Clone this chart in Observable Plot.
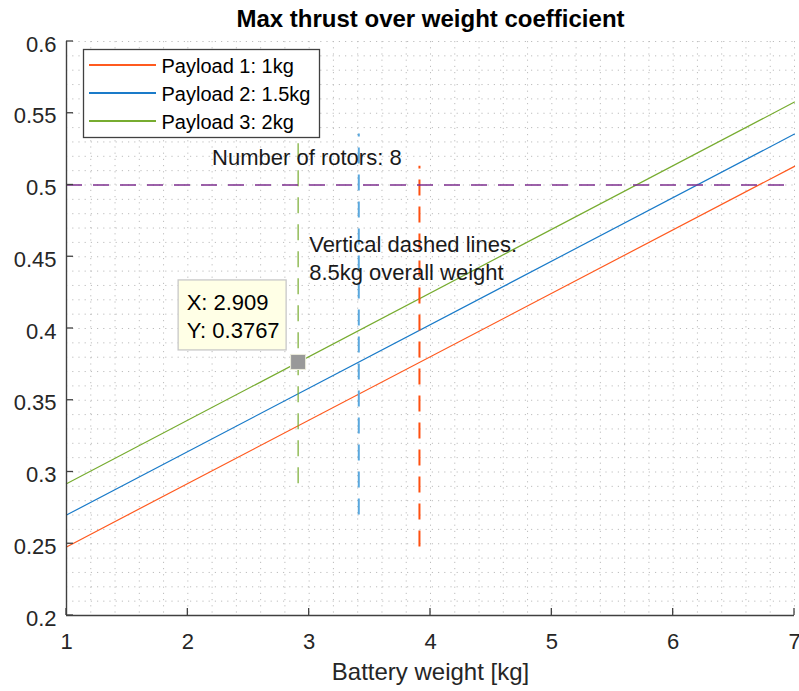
<!DOCTYPE html>
<html><head><meta charset="utf-8">
<script src="https://cdn.jsdelivr.net/npm/d3@7"></script>
<script src="https://cdn.jsdelivr.net/npm/@observablehq/plot@0.6"></script>
<style>body{margin:0;background:#fff} svg{display:block}</style>
</head><body><div id="chart"></div>
<script>
// ---- data ----
const batteryWeight = [1, 7];
const seriesNames = ["Payload 1: 1kg", "Payload 2: 1.5kg", "Payload 3: 2kg"];
const payload1 = [0.2478, 0.5130];
const payload2 = [0.2700, 0.5355];
const payload3 = [0.2918, 0.5578];
const seriesColors = ["#FF5A1F", "#1A7BC9", "#77AC30"];
const verticalColors = ["#FF5010", "#5AA8DE", "#77AC30"];
const verticalWidths = [2, 2, 1.2];
const batteryAtOverall = [3.909, 3.409, 2.909];
const thresholdY = [0.5];
const xTicks = [1, 2, 3, 4, 5, 6, 7];
const yTicks = [0.2, 0.25, 0.3, 0.35, 0.4, 0.45, 0.5, 0.55, 0.6];
const annotX = [2.2, 3.0, 3.0];
const annotY = [0.519, 0.458, 0.439];
const annotText = ["Number of rotors: 8", "Vertical dashed lines:", "8.5kg overall weight"];
const tipX = [2.909];
const tipY = [0.3767];
const titleText = "Max thrust over weight coefficient";
const xLabelText = "Battery weight [kg]";

const FONT = "'Liberation Sans', Arial, Helvetica, sans-serif";
const series = [payload1, payload2, payload3];
const lineData = series.flatMap((s, i) => s.map((v, j) => ({x: batteryWeight[j], y: v, name: seriesNames[i], color: seriesColors[i]})));
const verticals = series.map((s, i) => ({x: batteryAtOverall[i], y1: s[0], y2: s[s.length - 1], color: verticalColors[i], w: verticalWidths[i]}));
const annots = annotText.map((t, i) => ({x: annotX[i], y: annotY[i], t}));
const tip = tipX.map((x, i) => ({x, y: tipY[i]}));

const xGrid = d3.range(0, 31).map(i => 1 + i * 0.2);
const yGrid = d3.range(0, 41).map(i => 0.2 + i * 0.01);
const gridStyle = {stroke: "#bdbdbd", strokeWidth: 1, strokeDasharray: "1.2,5"};

const chart = Plot.plot({
  width: 799, height: 691,
  marginLeft: 66, marginRight: 5, marginTop: 41, marginBottom: 76,
  style: {fontFamily: FONT, fontSize: "22px", color: "#262626", background: "#fff"},
  x: {domain: [1, 7]},
  y: {domain: [0.2, 0.6]},
  color: {type: "identity"},
  marks: [
    Plot.ruleX(xGrid, gridStyle),
    Plot.ruleY(yGrid, gridStyle),
    Plot.line(lineData, {x: "x", y: "y", z: "name", stroke: "color", strokeWidth: 1.2}),
    ...verticals.map(v => Plot.ruleX([v], {x: "x", y1: "y1", y2: "y2", stroke: v.color, strokeWidth: v.w, strokeDasharray: "16,11"})),
    Plot.ruleY(thresholdY, {stroke: "#7E2F8E", strokeWidth: 1.4, strokeDasharray: "16,11"}),
    Plot.text(annots, {x: "x", y: "y", text: "t", textAnchor: "start", fontSize: 22, fill: "#1a1a1a"}),
    Plot.ruleX([1], {stroke: "#404040", strokeWidth: 1.4}),
    Plot.ruleY([0.2], {stroke: "#404040", strokeWidth: 1.4}),
    Plot.axisX({ticks: xTicks, tickSize: 0, tickPadding: 18, label: null, fontSize: 22, tickFormat: d => String(d)}),
    Plot.axisY({ticks: yTicks, tickSize: 0, tickPadding: 10, label: null, fontSize: 22, dy: 3, tickFormat: d => String(+d.toFixed(2))}),
    Plot.text([titleText], {frameAnchor: "top", lineAnchor: "middle", dy: -22, fontWeight: "bold", fontSize: 24, fill: "#000"}),
    Plot.text([xLabelText], {frameAnchor: "bottom", lineAnchor: "middle", dy: 57, fontSize: 24, fill: "#262626"}),
    Plot.dot(tip, {x: "x", y: "y", symbol: "square", r: 8.5, fill: "#999999", stroke: "#eeeedd", strokeWidth: 1})
  ]
});
document.getElementById("chart").appendChild(chart);

// ---- decorations via the chart's own scales ----
const sx = chart.scale("x"), sy = chart.scale("y");
const svg = d3.select(chart);
const g = svg.append("g").attr("stroke", "#404040").attr("stroke-width", 1.3);
xTicks.forEach(v => {
  const px = sx.apply(v), py = sy.apply(0.2);
  g.append("line").attr("x1", px).attr("x2", px).attr("y1", py).attr("y2", py - 7);
});
yTicks.forEach(v => {
  const px = sx.apply(1), py = sy.apply(v);
  g.append("line").attr("x1", px).attr("x2", px + 7).attr("y1", py).attr("y2", py);
});

// legend
const frameLeft = sx.apply(1), frameTop = sy.apply(0.6);
const lg = svg.append("g").attr("transform", `translate(${Math.round(frameLeft + 17)},${Math.round(frameTop + 8)})`).attr("text-anchor", "start");
lg.append("rect").attr("x", 0.5).attr("y", 0.5).attr("width", 236).attr("height", 88).attr("fill", "#fff").attr("stroke", "#404040").attr("stroke-width", 1.3);
seriesNames.forEach((n, i) => {
  const yy = Math.round(16 + i * 27.8);
  lg.append("path").attr("d", `M6,${yy}H73`).attr("fill", "none").style("stroke", seriesColors[i]).style("stroke-width", "1.8px");
  lg.append("text").attr("x", 78.5).attr("y", yy + 7.5).attr("text-anchor", "start").attr("font-size", 20).attr("font-family", FONT).attr("fill", "#000").text(n);
});

// datatip box
tip.forEach(d => {
  const mx = sx.apply(d.x), my = sy.apply(d.y);
  const tg = svg.append("g").attr("transform", `translate(${mx - 119.5},${my - 81.5})`).attr("text-anchor", "start");
  tg.append("rect").attr("width", 108).attr("height", 70).attr("fill", "#FFFFE6").attr("stroke", "#c8c8c8").attr("stroke-width", 1.3);
  tg.append("text").attr("x", 8.5).attr("y", 30).attr("text-anchor", "start").attr("font-size", 22).attr("font-family", FONT).attr("fill", "#000").text("X: " + d.x);
  tg.append("text").attr("x", 8.5).attr("y", 58.5).attr("text-anchor", "start").attr("font-size", 22).attr("font-family", FONT).attr("fill", "#000").text("Y: " + d.y);
});
</script></body></html>
